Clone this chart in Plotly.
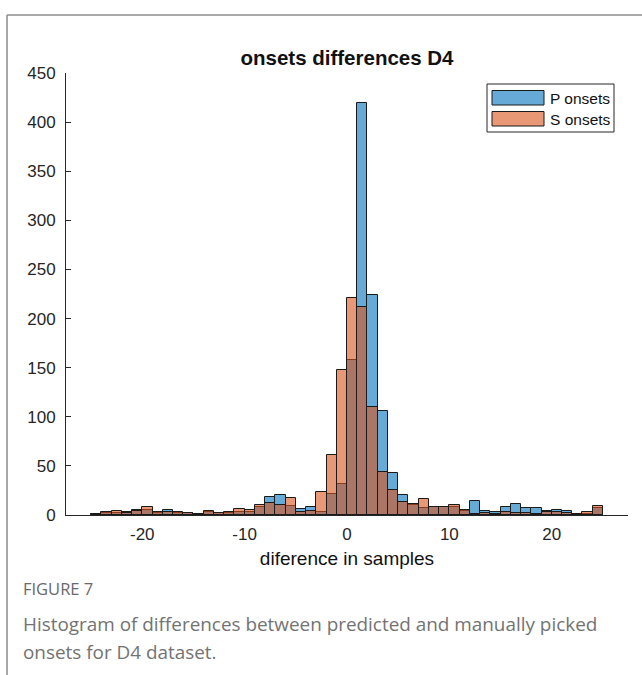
import plotly.graph_objects as go

# Histogram bins: unit-width bins [k, k+1) for k = -25 .. 24
bin_left = list(range(-25, 25))

p_counts = [1, 2, 2, 3, 5, 5, 2, 5, 2, 2,
            1, 3, 2, 2, 3, 3, 8, 18, 20, 9,
            6, 8, 3, 21, 32, 158, 419, 224, 106, 43,
            20, 10, 7, 8, 8, 8, 4, 14, 4, 3,
            8, 11, 7, 7, 4, 5, 4, 1, 1, 7]

s_counts = [1, 3, 4, 2, 4, 8, 3, 3, 3, 2,
            1, 4, 2, 3, 6, 5, 10, 12, 10, 17,
            3, 4, 23, 61, 148, 221, 212, 110, 44, 25,
            13, 11, 16, 8, 8, 10, 5, 1, 2, 1,
            3, 2, 2, 1, 3, 3, 2, 1, 3, 9]

series_names = ["P onsets", "S onsets"]
x_ticks = [-20, -10, 0, 10, 20]
x_tick_text = ["-20", "-10", "0", "10", "20"]
y_ticks = [0, 50, 100, 150, 200, 250, 300, 350, 400, 450]

BLUE = "rgba(0,114,189,0.6)"
ORANGE = "rgba(217,83,25,0.6)"
BLUE_SOLID = "#66AAD7"
ORANGE_SOLID = "#E89875"

W, H = 642, 675
L, R, T, B = 66, 628, 73, 515  # plot area in pixels


def px(x):
    return (x - L) / (R - L)


def py(y):
    return (B - y) / (B - T)


centers = [k + 0.5 for k in bin_left]

fig = go.Figure()
fig.add_trace(go.Bar(x=centers, y=p_counts, width=1, name=series_names[0],
                     marker=dict(color=BLUE, line=dict(color="#1a1a1a", width=1))))
fig.add_trace(go.Bar(x=centers, y=s_counts, width=1, name=series_names[1],
                     marker=dict(color=ORANGE, line=dict(color="#1a1a1a", width=1))))

axis_font = dict(family="Liberation Sans, Arial, sans-serif", size=17, color="#262626")

fig.update_layout(
    width=W, height=H,
    margin=dict(l=L, r=W - R, t=T, b=H - B, pad=0),
    paper_bgcolor="white", plot_bgcolor="white",
    barmode="overlay", bargap=0,
    showlegend=False,
    xaxis=dict(range=[-27.45, 27.45], tickvals=x_ticks, ticktext=x_tick_text,
               showgrid=False, zeroline=False, showline=True, linecolor="#262626",
               linewidth=1, ticks="", tickfont=axis_font, ticklabelstandoff=4,
               title=dict(text="diference in samples", standoff=8,
                          font=dict(family="Liberation Sans, Arial, sans-serif",
                                    size=19, color="#111"))),
    yaxis=dict(range=[0, 450], tickvals=y_ticks, showgrid=False, zeroline=False,
               showline=True, linecolor="#262626", linewidth=1, ticks="inside",
               ticklen=5, tickcolor="#262626", tickfont=axis_font,
               ticklabelstandoff=6),
    title=dict(text="<b>onsets differences D4</b>", x=px(347), xref="paper",
               xanchor="center", y=(H - 58) / H, yanchor="middle",
               font=dict(family="Liberation Sans, Arial, sans-serif", size=20.5,
                         color="#111")),
)

shapes = []
# outer figure frame (top and left edges)
shapes.append(dict(type="line", xref="paper", yref="paper", x0=px(7), x1=px(W + 5),
                   y0=py(15), y1=py(15), line=dict(color="#8c8c8c", width=1.5)))
shapes.append(dict(type="line", xref="paper", yref="paper", x0=px(7), x1=px(7),
                   y0=py(15), y1=py(H + 5), line=dict(color="#8c8c8c", width=1.5)))
# legend box and patches
shapes.append(dict(type="rect", xref="paper", yref="paper", x0=px(487), x1=px(614),
                   y0=py(84), y1=py(132), fillcolor="white",
                   line=dict(color="#262626", width=1)))
shapes.append(dict(type="rect", xref="paper", yref="paper", x0=px(492), x1=px(544),
                   y0=py(90.5), y1=py(105), fillcolor=BLUE_SOLID,
                   line=dict(color="#1a1a1a", width=1)))
shapes.append(dict(type="rect", xref="paper", yref="paper", x0=px(492), x1=px(544),
                   y0=py(111.5), y1=py(126), fillcolor=ORANGE_SOLID,
                   line=dict(color="#1a1a1a", width=1)))
fig.update_layout(shapes=shapes)

legend_font = dict(family="Liberation Sans, Arial, sans-serif", size=15.5, color="#111")
caption_font = dict(family="Open Sans, sans-serif", size=18.9, color="#737373")
annotations = [
    dict(text=series_names[0], x=px(548), y=py(98), xref="paper", yref="paper",
         xanchor="left", yanchor="middle", showarrow=False, font=legend_font),
    dict(text=series_names[1], x=px(548), y=py(119.5), xref="paper", yref="paper",
         xanchor="left", yanchor="middle", showarrow=False, font=legend_font),
    dict(text="FIGURE 7", x=px(21), y=py(588), xref="paper", yref="paper",
         xanchor="left", yanchor="middle", showarrow=False,
         font=dict(family="Open Sans, sans-serif", size=16.5, color="#6a6a6a")),
    dict(text="Histogram of differences between predicted and manually picked",
         x=px(21), y=py(624), xref="paper", yref="paper", xanchor="left",
         yanchor="middle", showarrow=False, font=caption_font),
    dict(text="onsets for D4 dataset.", x=px(21), y=py(652), xref="paper",
         yref="paper", xanchor="left", yanchor="middle", showarrow=False,
         font=caption_font),
]
fig.update_layout(annotations=annotations)

fig.write_html("out.html")
